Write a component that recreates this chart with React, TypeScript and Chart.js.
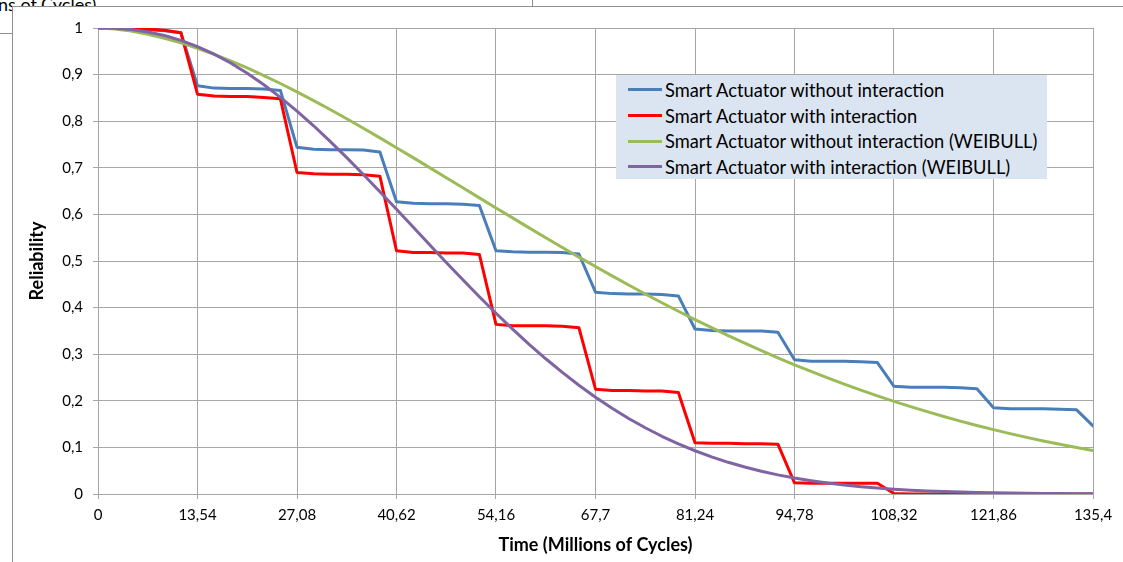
import React, { useEffect, useRef } from 'react';
import { Chart, registerables } from 'chart.js';

Chart.register(...registerables);

// Time in millions of cycles
const TIME = [
  0, 2.26, 4.51, 6.77, 9.03, 11.28, 13.54, 15.8, 18.05, 20.31, 22.57, 24.82,
  27.08, 29.34, 31.59, 33.85, 36.11, 38.36, 40.62, 42.88, 45.13, 47.39, 49.65, 51.9,
  54.16, 56.42, 58.67, 60.93, 63.19, 65.44, 67.7, 69.96, 72.21, 74.47, 76.73, 78.98,
  81.24, 83.5, 85.75, 88.01, 90.27, 92.52, 94.78, 97.04, 99.29, 101.55, 103.81, 106.06,
  108.32, 110.58, 112.83, 115.09, 117.35, 119.6, 121.86, 124.12, 126.37, 128.63, 130.89, 133.14,
  135.4,
];

const X_TICKS = [0, 13.54, 27.08, 40.62, 54.16, 67.7, 81.24, 94.78, 108.32, 121.86, 135.4];
const Y_TICKS = [0, 0.1, 0.2, 0.3, 0.4, 0.5, 0.6, 0.7, 0.8, 0.9, 1];

const WITHOUT_INTERACTION = [
  1, 0.999, 0.998, 0.996, 0.994, 0.99,
  0.876, 0.871, 0.87, 0.87, 0.869, 0.866,
  0.744, 0.74, 0.739, 0.739, 0.738, 0.734,
  0.627, 0.624, 0.623, 0.623, 0.622, 0.619,
  0.522, 0.52, 0.519, 0.519, 0.518, 0.515,
  0.433, 0.43, 0.429, 0.429, 0.428, 0.425,
  0.354, 0.351, 0.35, 0.35, 0.35, 0.347,
  0.288, 0.285, 0.285, 0.285, 0.284, 0.282,
  0.231, 0.229, 0.229, 0.229, 0.228, 0.226,
  0.185, 0.183, 0.183, 0.183, 0.182, 0.181,
  0.146,
];

const WITH_INTERACTION = [
  1, 0.999, 0.999, 0.998, 0.995, 0.99,
  0.858, 0.854, 0.853, 0.853, 0.851, 0.848,
  0.69, 0.687, 0.686, 0.686, 0.685, 0.682,
  0.522, 0.518, 0.518, 0.517, 0.517, 0.514,
  0.364, 0.361, 0.361, 0.361, 0.36, 0.357,
  0.225, 0.222, 0.222, 0.221, 0.221, 0.218,
  0.11, 0.109, 0.109, 0.108, 0.108, 0.107,
  0.024, 0.023, 0.023, 0.023, 0.023, 0.023,
  0.001, 0, 0, 0, 0, 0,
  0, 0, 0, 0, 0, 0,
  0,
];

const WEIBULL_WITHOUT = [
  1, 0.998, 0.9934, 0.9866, 0.9781, 0.968, 0.9564, 0.9436, 0.9295, 0.9142, 0.898, 0.8809,
  0.863, 0.8443, 0.825, 0.8052, 0.7849, 0.7642, 0.7431, 0.7218, 0.7004, 0.6788, 0.6572, 0.6355,
  0.6139, 0.5925, 0.5711, 0.55, 0.529, 0.5084, 0.4881, 0.4681, 0.4485, 0.4293, 0.4105, 0.3922,
  0.3743, 0.3569, 0.34, 0.3236, 0.3077, 0.2922, 0.2773, 0.263, 0.2491, 0.2358, 0.223, 0.2107,
  0.1989, 0.1876, 0.1768, 0.1664, 0.1565, 0.1471, 0.1381, 0.1296, 0.1215, 0.1138, 0.1066, 0.0996,
  0.0931,
];

const WEIBULL_WITH = [
  1, 0.9993, 0.9966, 0.9916, 0.9839, 0.9735, 0.9601, 0.9439, 0.9248, 0.9029, 0.8783, 0.8512,
  0.8218, 0.7902, 0.7568, 0.7218, 0.6857, 0.6486, 0.6109, 0.5728, 0.5347, 0.4969, 0.4597, 0.4232,
  0.3879, 0.3538, 0.3212, 0.2902, 0.2609, 0.2333, 0.2077, 0.184, 0.1621, 0.1421, 0.1239, 0.1076,
  0.0928, 0.0797, 0.068, 0.0578, 0.0488, 0.041, 0.0343, 0.0285, 0.0235, 0.0193, 0.0158, 0.0128,
  0.0104, 0.0083, 0.0067, 0.0053, 0.0042, 0.0033, 0.0026, 0.002, 0.0015, 0.0012, 0.0009, 0.0007,
  0.0005,
];

const SERIES_LABELS = [
  'Smart Actuator without interaction',
  'Smart Actuator with interaction',
  'Smart Actuator without interaction (WEIBULL)',
  'Smart Actuator with interaction (WEIBULL)',
];
const SERIES_COLORS = ['#4a7ebb', '#ff0000', '#9bbb59', '#7f63a2'];
const SERIES_VALUES = [WITHOUT_INTERACTION, WITH_INTERACTION, WEIBULL_WITHOUT, WEIBULL_WITH];

const X_TITLE = 'Time (Millions of Cycles)';
const Y_TITLE = 'Reliability';

const FONT = 'Lato, "Open Sans", sans-serif';
const GRID = '#a6a6a6';

const fmt = (v: number) => String(Math.round(v * 100) / 100).replace('.', ',');

export default function App() {
  const ref = useRef<HTMLCanvasElement | null>(null);

  useEffect(() => {
    if (!ref.current) return;
    const chart = new Chart(ref.current, {
      type: 'line',
      data: {
        datasets: SERIES_VALUES.map((vals, i) => ({
          label: SERIES_LABELS[i],
          data: TIME.map((t, k) => ({ x: t, y: vals[k] })),
          borderColor: SERIES_COLORS[i],
          backgroundColor: SERIES_COLORS[i],
          borderWidth: 3,
          pointRadius: 0,
          tension: 0,
          borderJoinStyle: 'round' as const,
          borderCapStyle: 'round' as const,
          order: 4 - i,
        })),
      },
      options: {
        responsive: false,
        animation: false,
        devicePixelRatio: 1,
        layout: { padding: { left: 0, right: 30, top: 21, bottom: 0 } },
        plugins: { legend: { display: false }, tooltip: { enabled: false } },
        scales: {
          x: {
            type: 'linear',
            min: 0,
            max: 135.4,
            afterBuildTicks: (scale: any) => {
              scale.ticks = X_TICKS.map((v) => ({ value: v }));
            },
            afterFit: (scale: any) => {
              scale.height = 68;
            },
            ticks: {
              autoSkip: false,
              maxRotation: 0,
              color: '#000',
              padding: 7,
              font: { family: FONT, size: 15 },
              callback: (v: any) => fmt(Number(v)),
            },
            grid: { color: GRID, lineWidth: 1, tickLength: 5, drawTicks: true },
            border: { color: GRID, width: 1 },
            title: {
              display: true,
              text: X_TITLE,
              color: '#000',
              font: { family: FONT, size: 18, weight: 'bold' },
              padding: { top: 0, bottom: 6 },
            },
          },
          y: {
            type: 'linear',
            min: 0,
            max: 1,
            afterBuildTicks: (scale: any) => {
              scale.ticks = Y_TICKS.map((v) => ({ value: v }));
            },
            afterFit: (scale: any) => {
              scale.width = 85;
            },
            ticks: {
              color: '#000',
              padding: 10,
              font: { family: FONT, size: 15 },
              callback: (v: any) => fmt(Number(v)),
            },
            grid: { color: GRID, lineWidth: 1, tickLength: 5, drawTicks: true },
            border: { color: GRID, width: 1 },
            title: {
              display: true,
              text: Y_TITLE,
              color: '#000',
              font: { family: FONT, size: 18, weight: 'bold' },
              padding: { top: 13, bottom: 0 },
            },
          },
        },
      },
    } as any);
    return () => chart.destroy();
  }, []);

  return (
    <div style={{ position: 'absolute', left: 0, top: 0, width: 1123, height: 562, overflow: 'hidden', background: '#fff' }}>
      {/* background window remnants */}
      <div style={{ position: 'absolute', left: -2, top: -7, fontFamily: FONT, fontSize: 18, color: '#000', whiteSpace: 'nowrap' }}>
        ns of Cycles)
      </div>
      <div style={{ position: 'absolute', left: 0, top: 33, width: 12, height: 1, background: '#8e8e8e' }} />
      <div style={{ position: 'absolute', left: 532, top: 0, width: 1, height: 6, background: '#8e8e8e' }} />
      <div
        style={{
          position: 'absolute',
          left: 12,
          top: 6,
          width: 1120,
          height: 570,
          borderLeft: '1px solid #8e8e8e',
          borderTop: '1px solid #8e8e8e',
          background: '#fff',
        }}
      >
        <canvas ref={ref} width={1110} height={555} style={{ display: 'block', width: 1110, height: 555 }} />
      </div>
      <div
        style={{
          position: 'absolute',
          left: 616,
          top: 75,
          width: 431,
          height: 104,
          background: '#dbe5f1',
          paddingTop: 2,
          boxSizing: 'border-box',
          fontFamily: FONT,
          fontSize: 18.3,
          color: '#000',
        }}
      >
        {SERIES_LABELS.map((label, i) => (
          <div key={label} style={{ display: 'flex', alignItems: 'center', height: 25.7, whiteSpace: 'nowrap' }}>
            <span style={{ display: 'inline-block', width: 34, height: 3, marginLeft: 12, marginRight: 3, background: SERIES_COLORS[i] }} />
            <span>{label}</span>
          </div>
        ))}
      </div>
    </div>
  );
}
